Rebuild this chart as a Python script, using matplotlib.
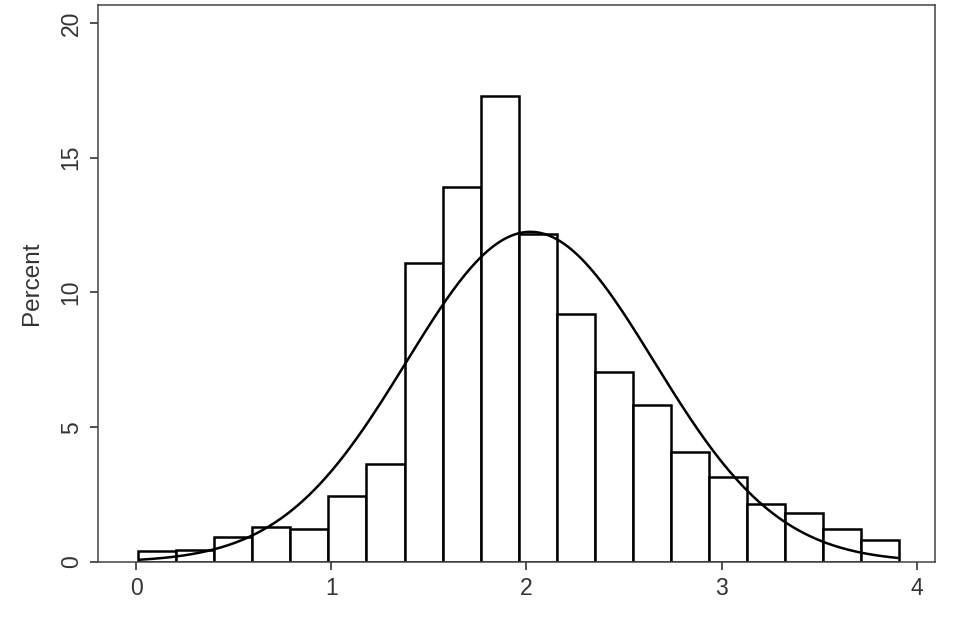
import numpy as np
import matplotlib
matplotlib.use("Agg")
import matplotlib.pyplot as plt

plt.rcParams["font.family"] = ["Liberation Sans", "DejaVu Sans"]

# histogram bins (left edge of first bin, bin width) and percent per bin
bin_start = 0.01
bin_width = 0.195
percent = [0.39, 0.43, 0.93, 1.30, 1.24, 2.44, 3.63, 11.08, 13.91, 17.29,
           12.16, 9.22, 7.05, 5.82, 4.08, 3.14, 2.14, 1.82, 1.24, 0.80]

# fitted normal curve
fit_mean = 2.02
fit_sd = 0.635

x_ticks = [0, 1, 2, 3, 4]
y_ticks = [0, 5, 10, 15, 20]

lefts = bin_start + bin_width * np.arange(len(percent))
edges_end = lefts[-1] + bin_width

fig = plt.figure(figsize=(9.57, 6.18), dpi=100)
ax = fig.add_axes([0.1024, 0.0906, 0.8746, 0.901])

ax.bar(lefts, percent, width=bin_width, align="edge", facecolor="white",
       edgecolor="black", linewidth=1.8, zorder=2)

xs = np.linspace(bin_start + 0.01, edges_end - 0.01, 400)
ys = 100 * bin_width * np.exp(-0.5 * ((xs - fit_mean) / fit_sd) ** 2) / (fit_sd * np.sqrt(2 * np.pi))
ax.plot(xs, ys, color="black", linewidth=1.8, zorder=3)

ax.set_xlim(-0.196, 4.094)
ax.set_ylim(0, 20.66)
ax.set_xticks(x_ticks)
ax.set_yticks(y_ticks)
ax.set_yticklabels([str(v) for v in y_ticks], rotation=90, va="center")
ax.tick_params(axis="both", direction="out", length=6, width=1.2,
               labelsize=16.5, labelcolor="#333333", color="#333333", pad=5)
ax.set_ylabel("Percent", fontsize=17.5, color="#333333", labelpad=12)

for s in ax.spines.values():
    s.set_color("#444444")
    s.set_linewidth(1.1)

fig.savefig("out.png", dpi=100)
